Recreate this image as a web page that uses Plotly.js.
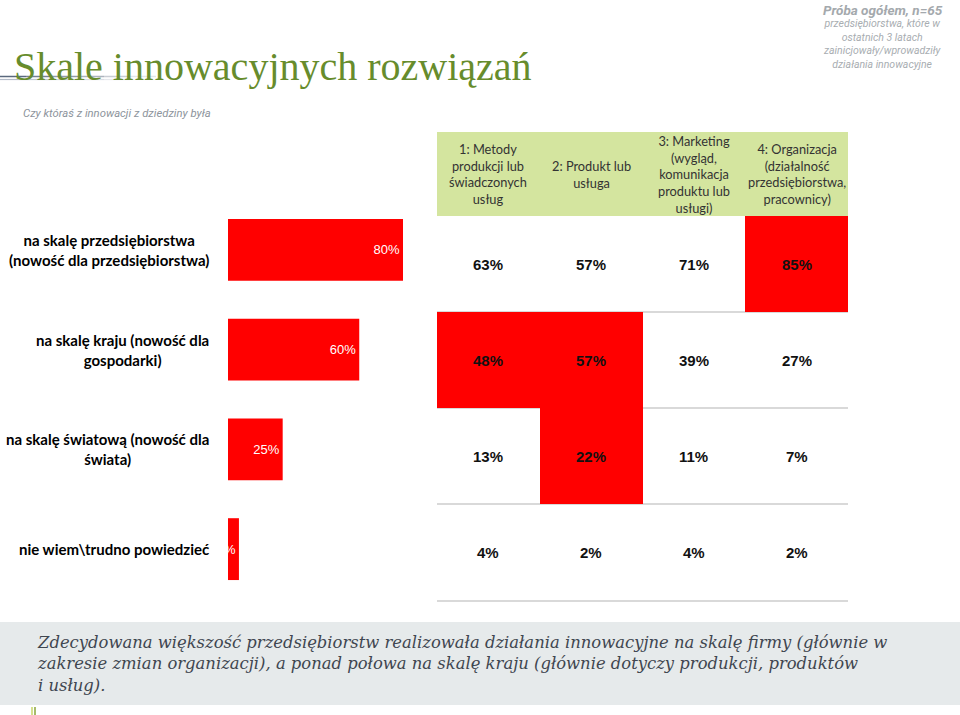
<!DOCTYPE html>
<html>
<head>
<meta charset="utf-8">
<script src="https://cdn.plot.ly/plotly-3.0.1.min.js"></script>
<style>html,body{margin:0;padding:0;background:#fff;}#chart{width:960px;height:715px;}</style>
</head>
<body>
<div id="chart"></div>
<script>
// ---- data ----
const categories = [
  'na skalę przedsiębiorstwa<br>(nowość dla przedsiębiorstwa)',
  'na skalę kraju (nowość dla<br>gospodarki)',
  'na skalę światową (nowość dla<br>świata)',
  'nie wiem\\trudno powiedzieć'
];
const totals = [80, 60, 25, 5];
const columns = [
  '1: Metody<br>produkcji lub<br>świadczonych<br>usług',
  '2: Produkt lub<br>usługa',
  '3: Marketing<br>(wygląd,<br>komunikacja<br>produktu lub<br>usługi)',
  '4: Organizacja<br>(działalność<br>przedsiębiorstwa,<br>pracownicy)'
];
const values = [
  [63, 57, 71, 85],
  [48, 57, 39, 27],
  [13, 22, 11, 7],
  [4, 2, 4, 2]
];
const highlight = [
  [0, 0, 0, 1],
  [1, 1, 0, 0],
  [0, 1, 0, 0],
  [0, 0, 0, 0]
];
const titleText = 'Skale innowacyjnych rozwiązań';
const subtitleText = 'Czy któraś z innowacji z dziedziny była';
const sampleHead = 'Próba ogółem, n=65';
const sampleText = 'przedsiębiorstwa, które w<br>ostatnich 3 latach<br>zainicjowały/wprowadziły<br>działania innowacyjne';
const footerText = 'Zdecydowana większość przedsiębiorstw realizowała działania innowacyjne na skalę firmy (głównie w<br>zakresie zmian organizacji), a ponad połowa na skalę kraju (głównie dotyczy produkcji, produktów<br>i usług).';

// ---- helpers ----
const W = 960, H = 715;
const px = v => v / W;
const py = v => 1 - v / H;

const rowIdx = values.map((_, i) => i);
const colIdx = columns.map((_, i) => i);

const traces = [
  {
    type: 'bar', orientation: 'h',
    x: totals, y: categories,
    xaxis: 'x', yaxis: 'y',
    marker: {color: '#ff0000'},
    width: 0.62,
    text: totals.map(v => v + '%'),
    textposition: 'inside', insidetextanchor: 'end',
    constraintext: 'none', textangle: 0,
    textfont: {family: 'Liberation Sans, Arial, sans-serif', size: 13, color: '#ffffff'},
    hoverinfo: 'skip', showlegend: false
  },
  {
    type: 'heatmap',
    x: colIdx, y: rowIdx, z: highlight,
    xaxis: 'x2', yaxis: 'y2',
    zmin: 0, zmax: 1,
    colorscale: [[0, 'rgba(255,255,255,0)'], [1, '#ff0000']],
    showscale: false, hoverinfo: 'skip'
  },
  {
    type: 'heatmap',
    x: colIdx, y: [0], z: [columns.map(() => 1)],
    xaxis: 'x2', yaxis: 'y3',
    zmin: 0, zmax: 1,
    colorscale: [[0, '#d4e59f'], [1, '#d4e59f']],
    showscale: false, hoverinfo: 'skip'
  }
];

const annotations = [];
// row labels
categories.forEach(c => annotations.push({
  xref: 'paper', yref: 'y', x: px(211), y: c, xanchor: 'right', yanchor: 'middle',
  text: '<b>' + c + '</b>', align: 'center', showarrow: false,
  font: {family: 'Lato, Carlito, sans-serif', size: 15, color: '#000000'}
}));
// header labels
columns.forEach((c, j) => annotations.push({
  xref: 'x2', yref: 'y3', x: j, y: 0, xanchor: 'center', yanchor: 'middle',
  text: c, align: 'center', showarrow: false,
  font: {family: 'Lato, Carlito, sans-serif', size: 12.8, color: '#333333'}
}));
// table values
values.forEach((row, i) => row.forEach((v, j) => annotations.push({
  xref: 'x2', yref: 'y2', x: j, y: i, xanchor: 'center', yanchor: 'middle',
  text: '<b>' + v + '%</b>', showarrow: false,
  font: {family: 'Liberation Sans Narrow, Arial Narrow, sans-serif', size: 15, color: '#111111'}
})));
// title & texts
annotations.push({xref: 'paper', yref: 'paper', x: px(12), y: py(66), xanchor: 'left', yanchor: 'middle',
  text: titleText, showarrow: false,
  font: {family: 'Liberation Serif, Georgia, serif', size: 40, color: '#678c2c'}});
annotations.push({xref: 'paper', yref: 'paper', x: px(21), y: py(113), xanchor: 'left', yanchor: 'middle',
  text: '<i>' + subtitleText + '</i>', showarrow: false,
  font: {family: 'Liberation Sans Narrow, Roboto, sans-serif', size: 11.3, color: '#8d949c'}});
annotations.push({xref: 'paper', yref: 'paper', x: px(883), y: py(10), xanchor: 'center', yanchor: 'middle',
  text: '<b><i>' + sampleHead + '</i></b>', showarrow: false,
  font: {family: 'Liberation Sans Narrow, Roboto, sans-serif', size: 13.5, color: '#a4a9ad'}});
annotations.push({xref: 'paper', yref: 'paper', x: px(882), y: py(43.5), xanchor: 'center', yanchor: 'middle',
  text: '<i>' + sampleText + '</i>', showarrow: false, align: 'center',
  font: {family: 'Liberation Sans Narrow, Roboto, sans-serif', size: 10.5, color: '#a8adb1'}});
annotations.push({xref: 'paper', yref: 'paper', x: px(35), y: py(664), xanchor: 'left', yanchor: 'middle',
  text: '<i>' + footerText + '</i>', showarrow: false, align: 'left',
  font: {family: 'DejaVu Serif, Georgia, serif', size: 16.4, color: '#3f4650'}});

const shapes = [
  // footer band
  {type: 'rect', xref: 'paper', yref: 'paper', x0: 0, x1: 1, y0: py(705), y1: py(622),
   fillcolor: '#e6eaeb', line: {width: 0}, layer: 'below'}
];
// decorative fading lines under title
for (let k = 0; k < 6; k++) {
  const a = 1 - k / 6;
  shapes.push({type: 'line', xref: 'paper', yref: 'paper', x0: px(k * 26), x1: px((k + 1) * 26),
    y0: py(76.5), y1: py(76.5), line: {color: 'rgba(90,104,125,' + a.toFixed(2) + ')', width: 1.5}});
  shapes.push({type: 'line', xref: 'paper', yref: 'paper', x0: px(k * 26), x1: px((k + 1) * 26),
    y0: py(79.5), y1: py(79.5), line: {color: 'rgba(160,170,185,' + (a * 0.8).toFixed(2) + ')', width: 1.2}});
}
// small green marks bottom-left
shapes.push({type: 'line', xref: 'paper', yref: 'paper', x0: px(32), x1: px(32), y0: py(715), y1: py(707),
  line: {color: '#c9d66a', width: 1.5}});
shapes.push({type: 'line', xref: 'paper', yref: 'paper', x0: px(35), x1: px(35), y0: py(715), y1: py(707),
  line: {color: '#8aa63a', width: 1.5}});

const layout = {
  width: W, height: H,
  margin: {l: 0, r: 0, t: 0, b: 0},
  paper_bgcolor: '#ffffff', plot_bgcolor: 'rgba(0,0,0,0)',
  showlegend: false,
  xaxis: {domain: [px(228), px(403)], range: [0, 80], visible: false, fixedrange: true},
  yaxis: {domain: [py(599), py(200)], type: 'category', range: [3.5, -0.5], visible: false, fixedrange: true},
  xaxis2: {domain: [px(437), px(848)], range: [-0.5, 3.5], anchor: 'y2',
    showgrid: false, zeroline: false, showticklabels: false, ticks: '',
    showline: true, linecolor: '#d9d9d9', linewidth: 2, fixedrange: true},
  yaxis2: {domain: [py(600), py(216)], range: [3.5, -0.5], anchor: 'x2',
    tickvals: [0.5, 1.5, 2.5], showgrid: true, gridcolor: '#d9d9d9', gridwidth: 2,
    zeroline: false, showticklabels: false, ticks: '', showline: false, fixedrange: true},
  yaxis3: {domain: [py(216), py(132)], range: [-0.5, 0.5], anchor: 'x2',
    visible: false, fixedrange: true},
  annotations: annotations,
  shapes: shapes
};

Plotly.newPlot('chart', traces, layout, {staticPlot: true, displayModeBar: false});
</script>
</body>
</html>
